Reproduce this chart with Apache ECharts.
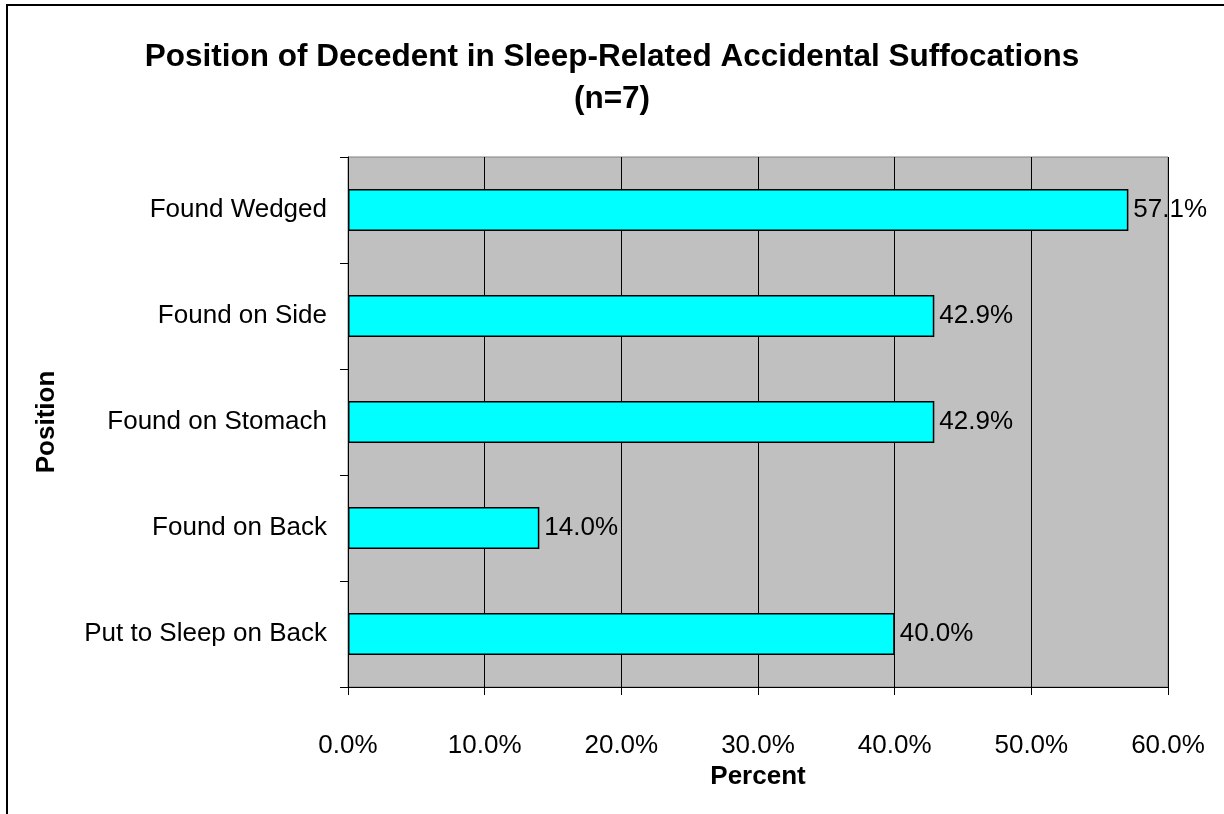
<!DOCTYPE html>
<html style="height: 100%">
<head>
  <meta charset="utf-8">
</head>
<body style="height: 100%; margin: 0; background: #fff">
  <div id="container" style="width: 1224px; height: 814px"></div>

  <script type="text/javascript" src="https://cdn.jsdelivr.net/npm/echarts@6/dist/echarts.min.js"></script>
  <script type="text/javascript">
    var positions = ['Found Wedged', 'Found on Side', 'Found on Stomach', 'Found on Back', 'Put to Sleep on Back'];
    var percents = [57.1, 42.9, 42.9, 14.0, 40.0];
    var xTicks = { min: 0, max: 60, interval: 10 };

    var dom = document.getElementById('container');
    var myChart = echarts.init(dom, null, { renderer: 'canvas' });
    var font = '"Liberation Sans", Arial, sans-serif';

    var option = {
      animation: false,
      textStyle: { fontFamily: font },
      title: {
        text: 'Position of Decedent in Sleep-Related Accidental Suffocations\n(n=7)',
        left: 'center',
        top: 31,
        textStyle: { fontSize: 31.5, fontWeight: 'bold', color: '#000', lineHeight: 42, fontFamily: font }
      },
      // outer chart border (only left and top visible in the frame)
      graphic: [{
        type: 'rect',
        shape: { x: 7, y: 5, width: 1300, height: 900 },
        style: { fill: null, stroke: '#000', lineWidth: 2 },
        silent: true,
        z: -1
      }],
      grid: {
        left: 348, top: 157, width: 820, height: 530,
        show: true,
        backgroundColor: '#C0C0C0',
        borderColor: '#808080',
        borderWidth: 1
      },
      xAxis: {
        type: 'value',
        min: xTicks.min, max: xTicks.max, interval: xTicks.interval,
        name: 'Percent',
        nameLocation: 'middle',
        nameGap: 71,
        nameTextStyle: { fontSize: 26, fontWeight: 'bold', color: '#000', fontFamily: font },
        axisLine: { show: true, lineStyle: { color: '#000', width: 1 } },
        axisTick: { show: true, length: 8, lineStyle: { color: '#000' } },
        axisLabel: {
          color: '#000', fontSize: 26, margin: 46, fontFamily: font,
          formatter: function (v) { return v.toFixed(1) + '%'; }
        },
        splitLine: { show: true, lineStyle: { color: '#000', width: 1 } }
      },
      yAxis: {
        type: 'category',
        data: positions,
        inverse: true,
        name: 'Position',
        nameLocation: 'middle',
        nameGap: 288,
        nameRotate: 90,
        nameTextStyle: { fontSize: 26, fontWeight: 'bold', color: '#000', fontFamily: font },
        axisLine: { show: true, lineStyle: { color: '#000', width: 1 } },
        axisTick: { show: true, length: 8, lineStyle: { color: '#000' } },
        axisLabel: { color: '#000', fontSize: 26, margin: 21, fontFamily: font },
        splitLine: { show: false }
      },
      series: [{
        type: 'bar',
        data: percents,
        barWidth: 42,
        itemStyle: { color: '#00FFFF', borderColor: '#000', borderWidth: 1.5 },
        label: {
          show: true,
          position: 'right',
          distance: 5,
          color: '#000',
          fontSize: 26,
          fontFamily: font,
          formatter: function (p) { return p.value.toFixed(1) + '%'; }
        }
      }]
    };

    myChart.setOption(option);
    window.addEventListener('resize', myChart.resize);
  </script>
</body>
</html>
